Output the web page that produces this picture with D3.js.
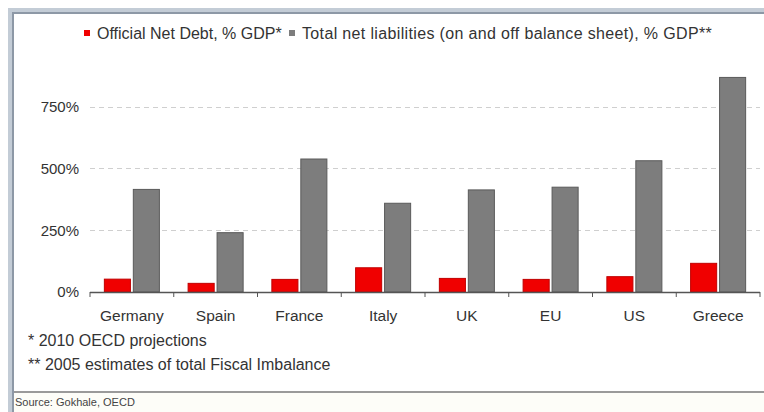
<!DOCTYPE html>
<html><head><meta charset="utf-8">
<script src="https://cdn.jsdelivr.net/npm/d3@7"></script>
<style>body{margin:0;background:#fff}svg{display:block;font-family:"Liberation Sans",Arial,sans-serif}</style>
</head><body><svg id="c" width="764" height="412"></svg>
<script>
const categories = ["Germany","Spain","France","Italy","UK","EU","US","Greece"];
const officialNetDebt = [52,35,51,98,55,51,62,116];
const totalNetLiabilities = [415,240,538,359,413,424,531,868];
const seriesNames = ["Official Net Debt, % GDP*","Total net liabilities (on and off balance sheet), % GDP**"];
const yTicks = [0,250,500,750];
const footnotes = ["* 2010 OECD projections","** 2005 estimates of total Fiscal Imbalance"];
const sourceText = "Source: Gokhale, OECD";

const svg = d3.select("#c");
svg.append("rect").attr("width",764).attr("height",412).attr("fill","#fff");
// frame
svg.append("rect").attr("x",8).attr("y",8).attr("width",756).attr("height",6).attr("fill","#c3ccd6");
svg.append("rect").attr("x",8).attr("y",12).attr("width",756).attr("height",2).attr("fill","#8d98a6");
svg.append("rect").attr("x",8).attr("y",8).attr("width",6).attr("height",404).attr("fill","#c3ccd6");
svg.append("rect").attr("x",12).attr("y",12).attr("width",2).attr("height",400).attr("fill","#8d98a6");
svg.append("rect").attr("x",14).attr("y",391).attr("width",750).attr("height",2).attr("fill","#9a9a9a");
svg.append("rect").attr("x",14).attr("y",393).attr("width",750).attr("height",19).attr("fill","#fdfdf8");

const x0 = d3.scaleBand().domain(categories).range([90,760]).paddingInner(0.343).paddingOuter(0.1715);
const x1 = d3.scaleBand().domain([0,1]).range([0,x0.bandwidth()]).paddingInner(0.1);
const y = d3.scaleLinear().domain([0,1000]).range([292,44.8]);

// gridlines
svg.append("g").selectAll("line").data(yTicks.filter(d=>d>0)).join("line")
  .attr("x1",90).attr("x2",760).attr("y1",d=>Math.round(y(d))+0.5).attr("y2",d=>Math.round(y(d))+0.5)
  .attr("stroke","#cfcfcf").attr("stroke-dasharray","5,4");

// y labels
const yAxis = d3.axisLeft(y).tickValues(yTicks).tickFormat(d=>d+"%").tickSize(0).tickPadding(0);
const gy = svg.append("g").attr("transform","translate(79,0)").call(yAxis);
gy.select(".domain").remove();
gy.selectAll("text").attr("font-size",15).attr("fill","#333").attr("font-family","Liberation Sans, Arial, sans-serif");

// bars
const colors = ["#f00000","#7d7d7d"], strokes = ["#c00000","#5a5a5a"];
const groups = svg.append("g").selectAll("g").data(categories).join("g")
  .attr("transform",d=>`translate(${x0(d)},0)`);
groups.selectAll("rect").data((d,i)=>[officialNetDebt[i],totalNetLiabilities[i]]).join("rect")
  .attr("x",(d,j)=>x1(j)).attr("width",x1.bandwidth())
  .attr("y",d=>y(d)).attr("height",d=>y(0)-y(d))
  .attr("fill",(d,j)=>colors[j]).attr("stroke",(d,j)=>strokes[j]).attr("stroke-width",1);

// x axis
const boundaries = categories.map(c=>x0(c)-x0.step()*x0.paddingOuter()).concat([760]);
svg.append("line").attr("x1",90).attr("x2",760).attr("y1",292.5).attr("y2",292.5).attr("stroke","#555").attr("stroke-width",1.5);
svg.append("g").selectAll("line").data(boundaries).join("line")
  .attr("x1",d=>d).attr("x2",d=>d).attr("y1",292).attr("y2",297).attr("stroke","#555");
const xAxis = d3.axisBottom(x0).tickSize(0).tickPadding(0);
const gx = svg.append("g").attr("transform","translate(0,310)").call(xAxis);
gx.select(".domain").remove();
gx.selectAll("text").attr("font-size",15.5).attr("fill","#333").attr("dy","0.71em").attr("y",0)
  .attr("font-family","Liberation Sans, Arial, sans-serif");

// legend
const leg = svg.append("g").attr("font-size",16).attr("fill","#333");
const legX = [84,289];
const legTextX = [97,302];
const legSpacing = [0,0.35];
seriesNames.forEach((s,i)=>{
  leg.append("rect").attr("x",legX[i]).attr("y",30).attr("width",6).attr("height",6).attr("fill",colors[i]);
  leg.append("text").attr("x",legTextX[i]).attr("y",33).attr("dy","0.35em").attr("letter-spacing",legSpacing[i]).text(s);
});

// footnotes
svg.append("g").selectAll("text").data(footnotes).join("text")
  .attr("x",28).attr("y",(d,i)=>340+i*24).attr("dy","0.35em").attr("font-size",16).attr("fill","#333").text(d=>d);
svg.append("text").attr("x",15).attr("y",402).attr("dy","0.35em").attr("font-size",11).attr("fill","#444").text(sourceText);
</script></body></html>
